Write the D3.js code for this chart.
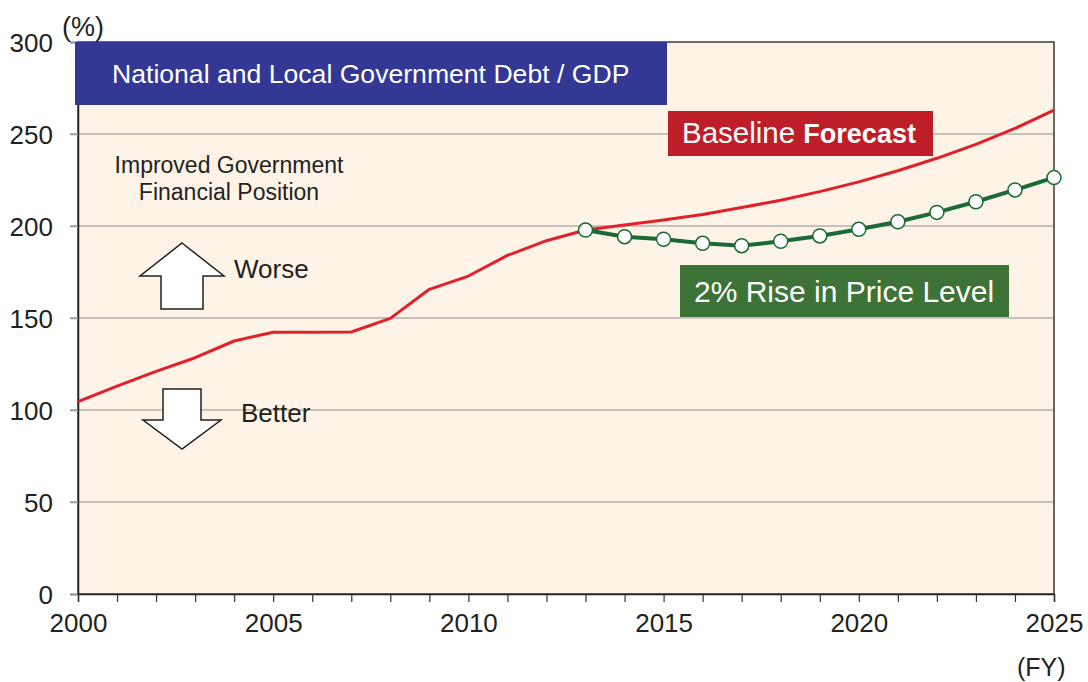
<!DOCTYPE html>
<html>
<head>
<meta charset="utf-8">
<script src="https://cdn.jsdelivr.net/npm/d3@7"></script>
<style>
  body { margin: 0; background: #fff; }
  svg { font-family: "Liberation Sans", Arial, sans-serif; }
</style>
</head>
<body>
<div id="chart"></div>
<script>
// debt / GDP (%)
let years = d3.range(2000, 2026);
let baseline = [104.5, 113, 121, 128.4, 137.5, 142.3, 142.2, 142.4, 149.8, 165.6, 172.8,
                184, 192, 197.8, 200.5, 203.3, 206.3, 210, 214, 218.7, 224,
                230, 236.8, 244.4, 253, 263];
let riseYears = d3.range(2013, 2026);
let rise = [197.8, 194.2, 192.8, 190.6, 189.3, 191.7, 194.6, 198.2, 202.3, 207.4, 213.2, 219.6, 226.3];
let yTicks = [0, 50, 100, 150, 200, 250, 300];
let xLabels = [2000, 2005, 2010, 2015, 2020, 2025];

let W = 1088, H = 682;
let margin = {top: 42, right: 34, bottom: 88, left: 78};
let width = W - margin.left - margin.right;
let height = H - margin.top - margin.bottom;

let svg = d3.select("#chart").append("svg")
    .attr("width", W)
    .attr("height", H);

let g = svg.append("g").attr("transform", "translate(" + margin.left + "," + margin.top + ")");

let x = d3.scaleLinear().domain([2000, 2025]).range([0, width]);
let y = d3.scaleLinear().domain([0, 300]).range([height, 0]);

// plot background
g.append("rect")
    .attr("width", width)
    .attr("height", height)
    .attr("fill", "#fdf3e7");

// grid lines + left ticks
g.append("g")
    .selectAll("line")
    .data(yTicks.filter(function(d) { return d > 0 && d < 300; }))
    .enter().append("line")
    .attr("x1", -8)
    .attr("x2", width)
    .attr("y1", function(d) { return y(d); })
    .attr("y2", function(d) { return y(d); })
    .attr("stroke", "#b3b0ad")
    .attr("stroke-width", 1.5);

// frame
g.append("rect")
    .attr("width", width)
    .attr("height", height)
    .attr("fill", "none")
    .attr("stroke", "#3a3a3a")
    .attr("stroke-width", 1.5);

// y axis
let yAxis = g.append("g")
    .call(d3.axisLeft(y).tickValues(yTicks).tickSize(8).tickPadding(17))
    .attr("font-family", null)
    .attr("font-size", 26);
yAxis.select(".domain").attr("stroke", "#222").attr("stroke-width", 1.5);
yAxis.selectAll(".tick line").attr("stroke", "#9a9a9a").attr("stroke-width", 1.5);
yAxis.selectAll(".tick text").attr("fill", "#231f20").attr("dy", "0.36em");

// x axis
let xAxis = g.append("g")
    .attr("transform", "translate(0," + height + ")")
    .call(d3.axisBottom(x).tickValues(years).tickSize(8).tickPadding(12)
        .tickFormat(function(d) { return xLabels.indexOf(d) >= 0 ? d : ""; }))
    .attr("font-family", null)
    .attr("font-size", 26);
xAxis.select(".domain").attr("stroke", "#222").attr("stroke-width", 1.5);
xAxis.selectAll(".tick line").attr("stroke", "#333").attr("stroke-width", 1.2);
xAxis.selectAll(".tick text").attr("fill", "#231f20");

// unit labels
svg.append("text")
    .attr("x", 62).attr("y", 36)
    .attr("font-size", 27).attr("fill", "#231f20")
    .text("(%)");
svg.append("text")
    .attr("x", 1017).attr("y", 676)
    .attr("font-size", 25).attr("fill", "#231f20")
    .text("(FY)");

// lines
let line = d3.line()
    .x(function(d) { return x(d[0]); })
    .y(function(d) { return y(d[1]); });

g.append("path")
    .datum(d3.zip(years, baseline))
    .attr("fill", "none")
    .attr("stroke", "#e3202a")
    .attr("stroke-width", 3)
    .attr("stroke-linejoin", "round")
    .attr("d", line);

let riseData = d3.zip(riseYears, rise);
g.append("path")
    .datum(riseData)
    .attr("fill", "none")
    .attr("stroke", "#1b6a35")
    .attr("stroke-width", 4)
    .attr("d", line);

g.append("g")
    .selectAll("circle")
    .data(riseData)
    .enter().append("circle")
    .attr("cx", function(d) { return x(d[0]); })
    .attr("cy", function(d) { return y(d[1]); })
    .attr("r", 7)
    .attr("fill", "#fff")
    .attr("stroke", "#1b6a35")
    .attr("stroke-width", 1.5);

// label boxes
function box(x0, y0, w, h, color) {
    svg.append("rect")
        .attr("x", x0).attr("y", y0)
        .attr("width", w).attr("height", h)
        .attr("fill", color);
}

box(75, 42, 592, 63, "#333894");
svg.append("text")
    .attr("x", 112).attr("y", 83)
    .attr("font-size", 26.6).attr("fill", "#fff")
    .text("National and Local Government Debt / GDP");

box(668, 111, 265, 45, "#be1e27");
let bt = svg.append("text")
    .attr("x", 682).attr("y", 143)
    .attr("font-size", 29.5).attr("fill", "#fff");
bt.append("tspan").text("Baseline ");
bt.append("tspan").attr("font-weight", "bold").attr("font-size", 27).text("Forecast");

box(680, 265, 329, 52, "#3d7337");
svg.append("text")
    .attr("x", 694).attr("y", 302)
    .attr("font-size", 30).attr("fill", "#fff")
    .text("2% Rise in Price Level");

// annotation text
let note = svg.append("text")
    .attr("font-size", 23).attr("fill", "#231f20")
    .attr("text-anchor", "middle");
note.append("tspan").attr("x", 229).attr("y", 173).text("Improved Government");
note.append("tspan").attr("x", 229).attr("y", 200).text("Financial Position");

// arrows
let upArrow = [[182, 243], [224, 276], [203, 276], [203, 309], [161, 309], [161, 276], [140, 276]];
let downArrow = [[163, 389], [201, 389], [201, 420], [221, 420], [182, 449], [143, 420], [163, 420]];
[upArrow, downArrow].forEach(function(pts) {
    svg.append("path")
        .attr("d", "M" + pts.join("L") + "Z")
        .attr("fill", "#fff")
        .attr("stroke", "#231f20")
        .attr("stroke-width", 1.5);
});

svg.append("text")
    .attr("x", 234).attr("y", 278)
    .attr("font-size", 26).attr("fill", "#231f20")
    .text("Worse");
svg.append("text")
    .attr("x", 241).attr("y", 422)
    .attr("font-size", 26).attr("fill", "#231f20")
    .text("Better");
</script>
</body>
</html>
